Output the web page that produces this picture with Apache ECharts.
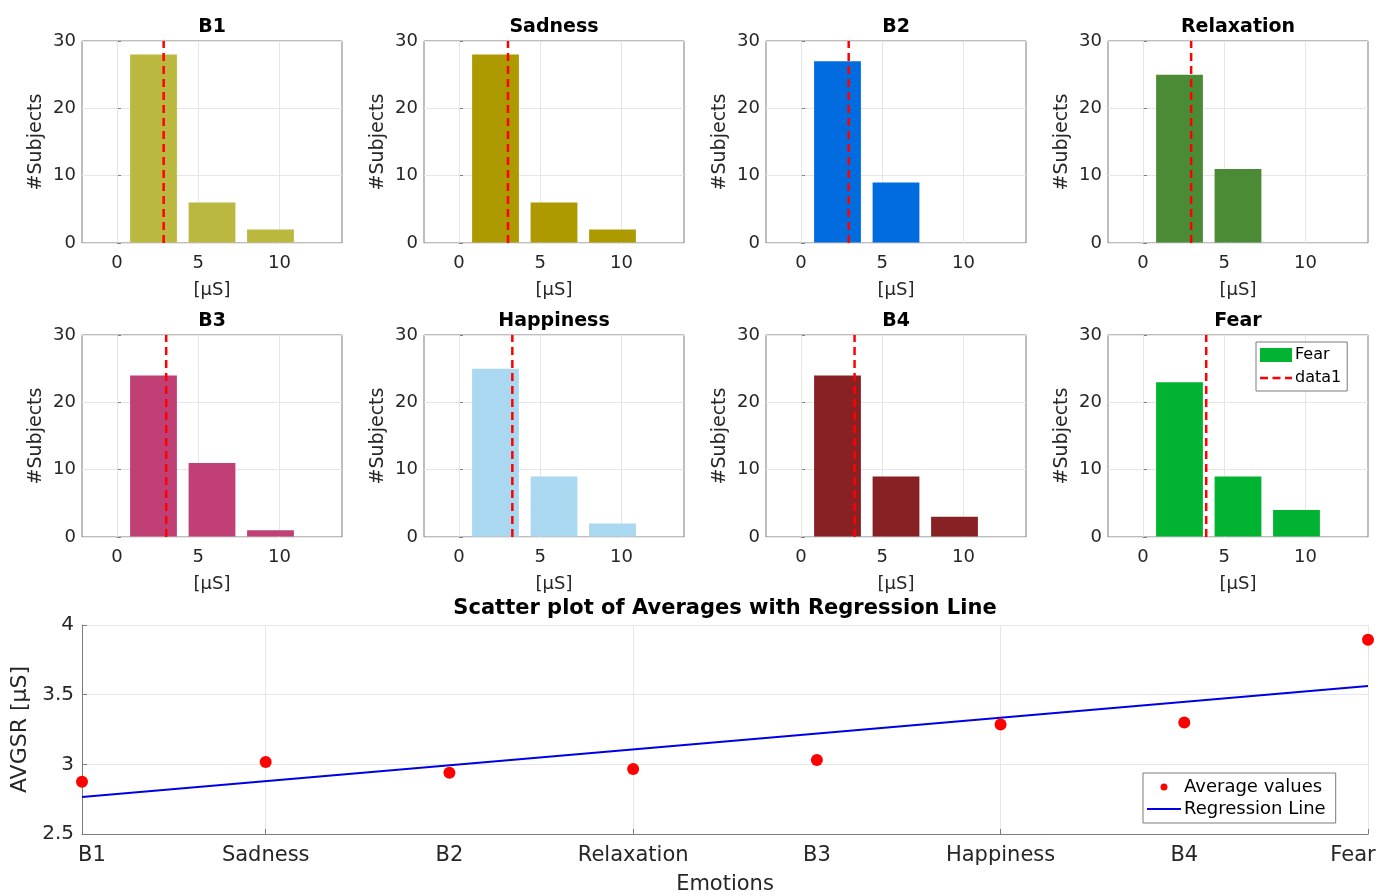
<!DOCTYPE html>
<html><head><meta charset="utf-8">
<script src="https://cdn.jsdelivr.net/npm/echarts@6/dist/echarts.min.js"></script>
<style>html,body{margin:0;padding:0;background:#fff}#c{width:1382px;height:896px}</style>
</head><body><div id="c"></div>
<script>
// ---------- DATA ----------
const emotions = ['B1', 'Sadness', 'B2', 'Relaxation', 'B3', 'Happiness', 'B4', 'Fear'];
const binEdges = [0.45, 4.05, 7.65, 11.25];
const countsB1 = [28, 6, 2];
const countsSadness = [28, 6, 2];
const countsB2 = [27, 9, 0];
const countsRelaxation = [25, 11, 0];
const countsB3 = [24, 11, 1];
const countsHappiness = [25, 9, 2];
const countsB4 = [24, 9, 3];
const countsFear = [23, 9, 4];
const averages = [2.875, 3.017, 2.939, 2.967, 3.031, 3.286, 3.300, 3.894];
const regressionEnds = [2.765, 3.562];
const histXTicks = [0, 5, 10];

// ---------- STYLE / LAYOUT ----------
const allCounts = [countsB1, countsSadness, countsB2, countsRelaxation, countsB3, countsHappiness, countsB4, countsFear];
const colors = ['#bbb840', '#ad9a00', '#006ce0', '#4b8b35', '#c04076', '#aad8f0', '#882124', '#00b432'];
const FONT = 'DejaVu Sans';
const TXT = '#262626';
const AX = '#7c7c7c';
const GRIDC = '#e6e6e6';
const colLeft = [82, 424, 766, 1108];
const rowTop = [41, 335];
const PW = 260, PH = 202;
const XMIN = -2.15, XMAX = 13.85;

const grids = [], xAxes = [], yAxes = [], series = [], graphics = [], legends = [];

for (let i = 0; i < 8; i++) {
  const r = Math.floor(i / 4), c = i % 4;
  grids.push({left: colLeft[c], top: rowTop[r], width: PW, height: PH, show: true,
    borderColor: AX, borderWidth: 1, backgroundColor: 'transparent', containLabel: false});
  xAxes.push({type: 'value', gridIndex: i, min: XMIN, max: XMAX,
    axisLine: {show: false},
    axisTick: {show: true, inside: true, length: 4, customValues: histXTicks, lineStyle: {color: AX}},
    axisLabel: {color: TXT, fontFamily: FONT, fontSize: 18, margin: 11, customValues: histXTicks,
      formatter: v => String(Math.round(v))},
    splitLine: {show: false},
    name: '[μS]', nameLocation: 'middle', nameGap: 38,
    nameTextStyle: {color: TXT, fontFamily: FONT, fontSize: 18}});
  yAxes.push({type: 'value', gridIndex: i, min: 0, max: 30, interval: 10,
    axisLine: {show: false}, axisTick: {show: true, inside: true, length: 4, lineStyle: {color: AX}},
    axisLabel: {color: TXT, fontFamily: FONT, fontSize: 18, margin: 6},
    splitLine: {show: true, lineStyle: {color: GRIDC}},
    name: '#Subjects', nameLocation: 'middle', nameGap: 36,
    nameTextStyle: {color: TXT, fontFamily: FONT, fontSize: 19}});
  const data = allCounts[i].map((v, k) => [binEdges[k], binEdges[k + 1], v]);
  series.push({
    type: 'custom', name: i === 7 ? 'Fear' : emotions[i] + ' hist', xAxisIndex: i, yAxisIndex: i,
    itemStyle: {color: colors[i]}, encode: {x: [0, 1], y: 2}, data: data, z: 2,
    renderItem: function (params, api) {
      const x0 = api.value(0), x1 = api.value(1), cnt = api.value(2);
      if (!cnt) return null;
      const pad = (x1 - x0) * 0.1;
      const p0 = api.coord([x0 + pad, cnt]);
      const p1 = api.coord([x1 - pad, 0]);
      return {type: 'rect', shape: {x: p0[0], y: p0[1], width: p1[0] - p0[0], height: p1[1] - p0[1] - 0.5},
        style: {fill: api.visual('color')}};
    },
    // vertical grid lines at the x ticks, placed through the axis scale
    markLine: {silent: true, symbol: 'none', label: {show: false}, z: 1,
      lineStyle: {color: GRIDC, width: 1, type: 'solid'},
      data: histXTicks.map(t => ({xAxis: t}))}
  });
  series.push({
    type: 'line', name: i === 7 ? 'data1' : emotions[i] + ' mean', xAxisIndex: i, yAxisIndex: i,
    data: [[averages[i], 0], [averages[i], 30]], symbol: 'none', z: 5, silent: true,
    lineStyle: {color: '#ff0000', width: 2.5, type: [8, 5]}, itemStyle: {color: '#ff0000'}
  });
  graphics.push({type: 'text', x: colLeft[c] + PW / 2, y: rowTop[r] - 14,
    style: {text: emotions[i], font: 'bold 19px "' + FONT + '"', fill: '#000', align: 'center', verticalAlign: 'middle'}});
}

// scatter panel
grids.push({left: 82, top: 625, width: 1286, height: 212, containLabel: false});
xAxes.push({type: 'category', gridIndex: 8, data: emotions.map((e, k) => {
    if (k === 0) return {value: e, textStyle: {padding: [0, 0, 0, 20]}};
    if (k === emotions.length - 1) return {value: e, textStyle: {padding: [0, 30, 0, 0]}};
    return e; }),
  boundaryGap: false,
  axisLine: {show: true, lineStyle: {color: AX}},
  axisTick: {show: true, inside: true, length: 5, interval: (idx) => idx % 2 === 1, lineStyle: {color: AX}},
  axisLabel: {color: TXT, fontFamily: FONT, fontSize: 21, margin: 11, interval: 0},
  splitLine: {show: true, interval: (idx) => idx % 2 === 1, lineStyle: {color: GRIDC}},
  name: 'Emotions', nameLocation: 'middle', nameGap: 40,
  nameTextStyle: {color: TXT, fontFamily: FONT, fontSize: 21}});
yAxes.push({type: 'value', gridIndex: 8, min: 2.5, max: 4, interval: 0.5,
  axisLine: {show: true, lineStyle: {color: AX}},
  axisTick: {show: true, inside: true, length: 5, lineStyle: {color: AX}},
  axisLabel: {color: TXT, fontFamily: FONT, fontSize: 20, margin: 8},
  splitLine: {show: true, lineStyle: {color: GRIDC}},
  name: 'AVGSR [μS]', nameLocation: 'middle', nameGap: 45,
  nameTextStyle: {color: TXT, fontFamily: FONT, fontSize: 22}});
series.push({type: 'line', name: 'Regression Line', xAxisIndex: 8, yAxisIndex: 8,
  data: [[emotions[0], regressionEnds[0]], [emotions[emotions.length - 1], regressionEnds[1]]],
  symbol: 'none', lineStyle: {color: '#0000e6', width: 2}, itemStyle: {color: '#0000e6'}, z: 3, silent: true});
series.push({type: 'scatter', name: 'Average values', xAxisIndex: 8, yAxisIndex: 8,
  data: averages.map((v, k) => [emotions[k], v]), symbolSize: 12,
  itemStyle: {color: '#ff0000', opacity: 1}, z: 4, silent: true});
graphics.push({type: 'text', x: 725, y: 609,
  style: {text: 'Scatter plot of Averages with Regression Line', font: 'bold 21px "' + FONT + '"', fill: '#000', align: 'center', verticalAlign: 'middle'}});

const solidIcon = 'path://M0,0h34v2h-34z';
const dashIcon = 'path://M0,0h8v2.5h-8z M12.5,0h8v2.5h-8z M25,0h7v2.5h-7z';
legends.push({show: true, orient: 'vertical', left: 1256, top: 342, padding: [5, 6, 5, 4], itemGap: 7,
  itemWidth: 32, itemHeight: 14, backgroundColor: '#fff', borderColor: AX, borderWidth: 1,
  textStyle: {fontFamily: FONT, fontSize: 16, color: '#000', padding: [0, 0, 0, -2]},
  selectedMode: false,
  data: [{name: 'Fear', icon: 'rect'},
         {name: 'data1', icon: dashIcon, itemStyle: {color: '#ff0000', opacity: 1}}]});
legends.push({show: true, orient: 'vertical', left: 1143, top: 773, padding: [5, 10, 5, 4], itemGap: 4,
  itemWidth: 34, itemHeight: 7, backgroundColor: '#fff', borderColor: AX, borderWidth: 1,
  textStyle: {fontFamily: FONT, fontSize: 18, color: '#000', padding: [0, 0, 0, -2]},
  selectedMode: false,
  data: [{name: 'Average values', icon: 'circle', itemStyle: {color: '#ff0000', opacity: 1}},
         {name: 'Regression Line', icon: solidIcon, itemStyle: {color: '#0000e6', opacity: 1}}]});

const chart = echarts.init(document.getElementById('c'), null, {renderer: 'canvas'});
chart.setOption({
  animation: false,
  backgroundColor: '#ffffff',
  grid: grids, xAxis: xAxes, yAxis: yAxes, series: series, legend: legends,
  graphic: graphics
});
</script></body></html>
